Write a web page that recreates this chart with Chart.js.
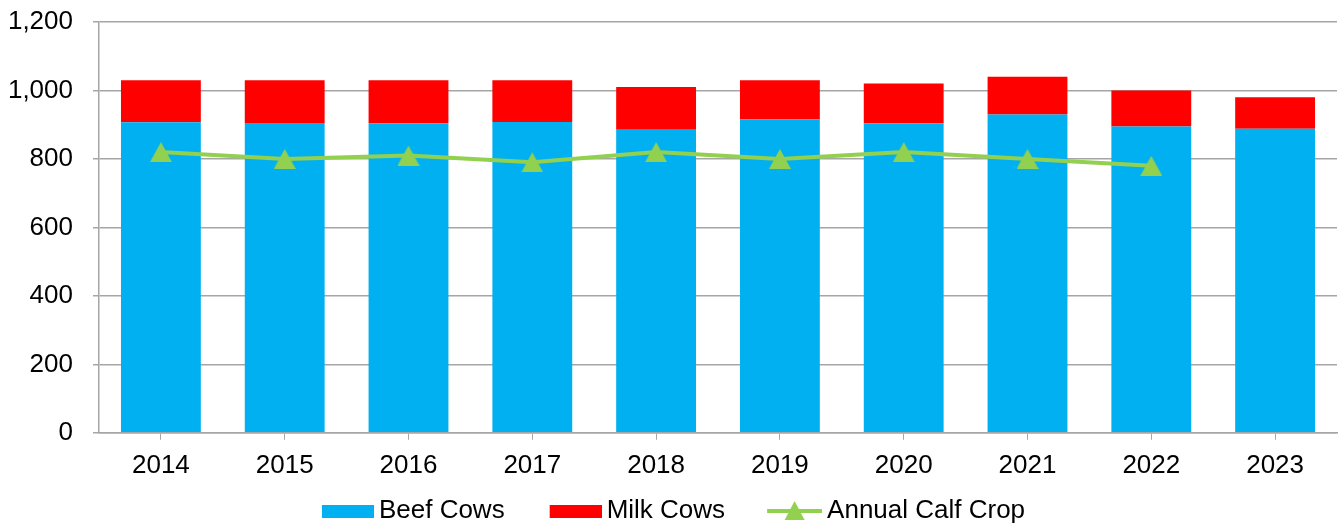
<!DOCTYPE html>
<html>
<head>
<meta charset="utf-8">
<script src="https://cdn.jsdelivr.net/npm/chart.js@4"></script>
<style>
  html, body { margin: 0; padding: 0; background: #fff; overflow: hidden; }
  #wrap { width: 1338px; height: 523px; position: relative; }
  #cowChart { display: block; }
</style>
</head>
<body>
<div id="wrap"><canvas id="cowChart"></canvas></div>
<script>
  var years = ["2014", "2015", "2016", "2017", "2018", "2019", "2020", "2021", "2022", "2023"];
  var beefCows = [907, 905, 904, 908, 885, 915, 904, 930, 895, 888];
  var milkCows = [123, 125, 126, 122, 125, 115, 116, 110, 105, 92];
  var calfCrop = [820, 800, 810, 790, 820, 800, 820, 800, 780, null];
  var yTicks = [0, 200, 400, 600, 800, 1000, 1200];

  var BLUE = "#00B0F0";
  var RED = "#FF0000";
  var GREEN = "#92D050";
  var GRID = "#a6a6a6";

  // triangle marker, centred on its box like the original markers
  function triangleMark() {
    var c = document.createElement("canvas");
    c.width = 22; c.height = 20;
    var g = c.getContext("2d");
    g.fillStyle = GREEN;
    g.beginPath();
    g.moveTo(11, 0); g.lineTo(22, 20); g.lineTo(0, 20);
    g.closePath();
    g.fill();
    return c;
  }
  var calfMark = triangleMark();

  // legend symbols: canvas is 16px wider than the legend box, icon sits at its right end
  var BOXW = 82;
  var ICONW = BOXW + 16;
  function boxIcon(color) {
    var c = document.createElement("canvas");
    c.width = ICONW; c.height = 13;
    var g = c.getContext("2d");
    g.fillStyle = color;
    g.fillRect(ICONW - 52, 0, 52, 13);
    return c;
  }
  function lineIcon() {
    var c = document.createElement("canvas");
    c.width = ICONW; c.height = 22;
    var g = c.getContext("2d");
    var x0 = ICONW - 55;
    g.strokeStyle = GREEN;
    g.lineWidth = 4;
    g.beginPath();
    g.moveTo(x0, 11); g.lineTo(ICONW, 11);
    g.stroke();
    g.fillStyle = GREEN;
    g.beginPath();
    g.moveTo(x0 + 27.5, 1); g.lineTo(x0 + 37.5, 20); g.lineTo(x0 + 17.5, 20);
    g.closePath();
    g.fill();
    return c;
  }
  var legendIcons = [boxIcon(BLUE), boxIcon(RED), lineIcon()];

  // pulls the legend a bit lower and left
  var legendShift = {
    id: "legendShift",
    beforeInit: function(chart) {
      var fit = chart.legend.fit;
      chart.legend.fit = function() {
        fit.call(this);
        this.height -= 11;
      };
    },
    afterLayout: function(chart) {
      chart.legend.left -= 18;
      chart.legend.right -= 18;
    }
  };

  Chart.defaults.font.family = "'Liberation Sans', Arial, sans-serif";
  Chart.defaults.font.size = 26;
  Chart.defaults.color = "#000";

  var ctx = document.getElementById("cowChart").getContext("2d");
  var cowChart = new Chart(ctx, {
    type: "bar",
    data: {
      labels: years,
      datasets: [{
        label: "Beef Cows",
        data: beefCows,
        backgroundColor: BLUE,
        stack: "cows",
        order: 1,
        barPercentage: 1,
        categoryPercentage: 0.645
      }, {
        label: "Milk Cows",
        data: milkCows,
        backgroundColor: RED,
        stack: "cows",
        order: 1,
        barPercentage: 1,
        categoryPercentage: 0.645
      }, {
        type: "line",
        label: "Annual Calf Crop",
        data: calfCrop,
        borderColor: GREEN,
        backgroundColor: GREEN,
        borderWidth: 4,
        pointStyle: calfMark,
        pointRadius: 11,
        pointBorderWidth: 0,
        stack: "calf",
        order: 0,
        spanGaps: false
      }]
    },
    options: {
      responsive: true,
      maintainAspectRatio: false,
      animation: false,
      layout: { autoPadding: false, padding: { left: 8, right: 1, top: 0, bottom: 0 } },
      scales: {
        x: {
          stacked: true,
          grid: {
            display: true,
            drawOnChartArea: false,
            offset: false,
            tickLength: 7,
            color: GRID
          },
          border: { color: GRID, width: 1.5 },
          ticks: { padding: 10 }
        },
        y: {
          stacked: true,
          min: 0,
          max: 1200,
          afterBuildTicks: function(axis) {
            axis.ticks = yTicks.map(function(v) { return { value: v }; });
          },
          afterFit: function(axis) {
            axis.width = 91;
            axis.paddingTop = 22;
          },
          grid: { color: GRID, lineWidth: 1.5, tickLength: 6 },
          border: { color: GRID, width: 1.5 },
          ticks: {
            padding: 20,
            font: { size: 26, lineHeight: 0.8 },
            callback: function(v) { return Number(v).toLocaleString("en-US"); }
          }
        }
      },
      plugins: {
        tooltip: { enabled: false },
        legend: {
          position: "bottom",
          labels: {
            usePointStyle: true,
            pointStyleWidth: BOXW,
            padding: 7,
            font: { size: 26 },
            generateLabels: function(chart) {
              return chart.data.datasets.map(function(ds, i) {
                return {
                  text: ds.label,
                  pointStyle: legendIcons[i],
                  fillStyle: "transparent",
                  strokeStyle: "transparent",
                  lineWidth: 0,
                  datasetIndex: i,
                  hidden: false
                };
              });
            }
          }
        }
      }
    },
    plugins: [legendShift]
  });
</script>
</body>
</html>
